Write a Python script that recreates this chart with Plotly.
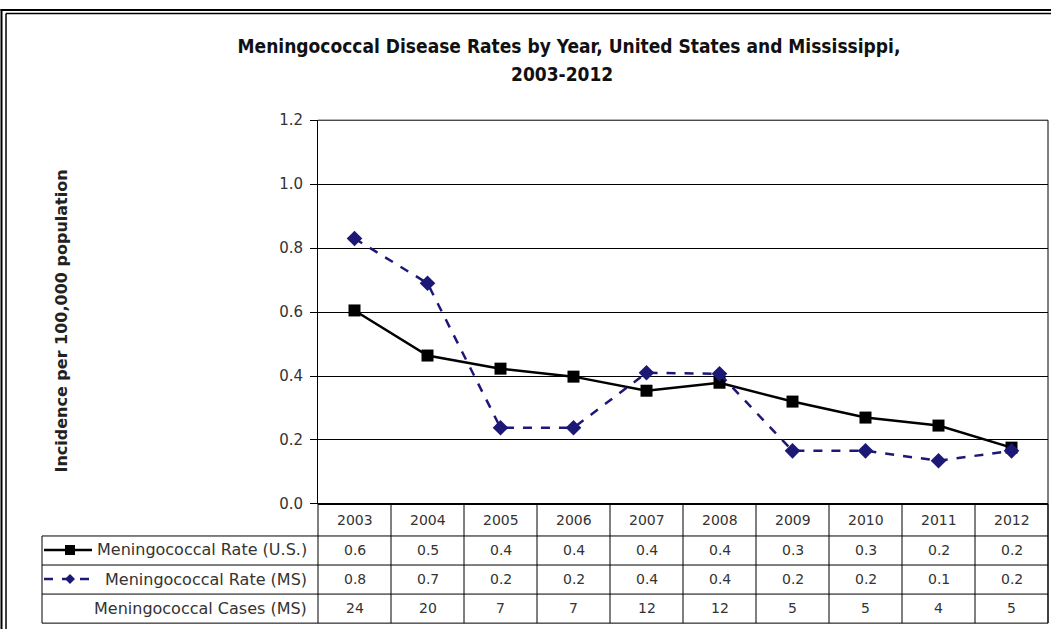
import plotly.graph_objects as go

# ---------------- data ----------------
years = ["2003", "2004", "2005", "2006", "2007", "2008", "2009", "2010", "2011", "2012"]
us_rate = [0.605, 0.464, 0.423, 0.398, 0.354, 0.379, 0.320, 0.270, 0.245, 0.176]
ms_rate = [0.830, 0.690, 0.238, 0.238, 0.410, 0.407, 0.166, 0.166, 0.135, 0.166]
us_table = ["0.6", "0.5", "0.4", "0.4", "0.4", "0.4", "0.3", "0.3", "0.2", "0.2"]
ms_table = ["0.8", "0.7", "0.2", "0.2", "0.4", "0.4", "0.2", "0.2", "0.1", "0.2"]
ms_cases = ["24", "20", "7", "7", "12", "12", "5", "5", "4", "5"]
y_tickvals = [0.0, 0.2, 0.4, 0.6, 0.8, 1.0, 1.2]
y_ticktext = ["0.0", "0.2", "0.4", "0.6", "0.8", "1.0", "1.2"]
row_labels = ["Meningococcal Rate (U.S.)", "Meningococcal Rate (MS)", "Meningococcal Cases (MS)"]
title_line1 = "Meningococcal Disease Rates by Year, United States and Mississippi,"
title_line2 = "2003-2012"
y_title = "Incidence per 100,000 population"

# ---------------- layout helpers ----------------
W, H = 1051, 638
OFF_Y, SC_Y = 9.0, 0.970   # observed vertical placement of the figure in the photographed page
PL, PR, PT, PB = 318, 1048, 120, 503  # plot area in pixels (target picture)
def fx(p):
    return p / W
def fy(p):
    return 1 - ((p - OFF_Y) / SC_Y) / H
def dx(p):  # pixel -> x domain fraction
    return (p - PL) / (PR - PL)

NAVY = "#1c1875"
TXT = "#333333"
FONT = "DejaVu Sans"
TITLE_FONT = dict(family="DejaVu Sans Condensed, DejaVu Sans, sans-serif", size=19,
                  color="#111111", weight="bold")

fig = go.Figure()
fig.add_trace(go.Scatter(
    x=years, y=us_rate, mode="lines+markers", name=row_labels[0],
    line=dict(color="black", width=2.5),
    marker=dict(symbol="square", size=12, color="black"),
    cliponaxis=False,
))
fig.add_trace(go.Scatter(
    x=years, y=ms_rate, mode="lines+markers", name=row_labels[1],
    line=dict(color=NAVY, width=2.5, dash="dash"),
    marker=dict(symbol="diamond", size=12, color=NAVY),
    cliponaxis=False,
))

shapes = []
# plot-area top and right borders
shapes.append(dict(type="line", xref="x domain", yref="paper", x0=0, x1=1, y0=fy(PT), y1=fy(PT),
                   line=dict(color="black", width=1)))
shapes.append(dict(type="line", xref="x domain", yref="paper", x0=1, x1=1, y0=fy(PT), y1=fy(622),
                   line=dict(color="black", width=1)))
# table horizontal lines
for yy in [535, 564, 593, 622]:
    shapes.append(dict(type="line", xref="x domain", yref="paper", x0=dx(42), x1=1, y0=fy(yy), y1=fy(yy),
                       line=dict(color="black", width=1)))
shapes.append(dict(type="line", xref="x domain", yref="paper", x0=0, x1=1, y0=fy(PB), y1=fy(PB),
                   line=dict(color="black", width=1)))
# table vertical lines (category band edges)
n = len(years)
for i in range(n + 1):
    shapes.append(dict(type="line", xref="x domain", yref="paper", x0=i / n, x1=i / n, y0=fy(PB), y1=fy(622),
                       line=dict(color="black", width=1)))
shapes.append(dict(type="line", xref="x domain", yref="paper", x0=dx(42), x1=dx(42), y0=fy(535), y1=fy(622),
                   line=dict(color="black", width=1)))
# legend keys in the table
shapes.append(dict(type="line", xref="paper", yref="paper", x0=fx(44), x1=fx(92), y0=fy(549), y1=fy(549),
                   line=dict(color="black", width=2.5)))
shapes.append(dict(type="rect", xref="paper", yref="paper", x0=fx(65), x1=fx(75), y0=fy(544), y1=fy(554),
                   fillcolor="black", line=dict(color="black", width=0)))
shapes.append(dict(type="line", xref="paper", yref="paper", x0=fx(44), x1=fx(92), y0=fy(578), y1=fy(578),
                   line=dict(color=NAVY, width=2.5, dash="dash")))
cx, cy, r = 70, 578, 5
shapes.append(dict(type="path", xref="paper", yref="paper",
                   path=f"M {fx(cx)},{fy(cy - r)} L {fx(cx + r)},{fy(cy)} L {fx(cx)},{fy(cy + r)} L {fx(cx - r)},{fy(cy)} Z",
                   fillcolor=NAVY, line=dict(color=NAVY, width=0)))
# outer frame (double line)
shapes.append(dict(type="line", xref="paper", yref="paper", x0=fx(1.5), x1=fx(1.5), y0=0, y1=1,
                   line=dict(color="black", width=2)))
shapes.append(dict(type="line", xref="paper", yref="paper", x0=fx(0.5), x1=1, y0=fy(10), y1=fy(10),
                   line=dict(color="black", width=2)))
shapes.append(dict(type="line", xref="paper", yref="paper", x0=fx(6), x1=fx(6), y0=0, y1=fy(13.5),
                   line=dict(color="black", width=1.5)))
shapes.append(dict(type="line", xref="paper", yref="paper", x0=fx(6), x1=1, y0=fy(13.5), y1=fy(13.5),
                   line=dict(color="black", width=1.5)))

annotations = []
row_y = [519, 549, 578, 607]
for i, yr in enumerate(years):
    annotations.append(dict(x=i, xref="x", y=fy(row_y[0]), yref="paper", text=yr, showarrow=False,
                            font=dict(family=FONT, size=14, color=TXT), xanchor="center", yanchor="middle"))
for vals, ry in [(us_table, row_y[1]), (ms_table, row_y[2]), (ms_cases, row_y[3])]:
    for i, v in enumerate(vals):
        annotations.append(dict(x=i, xref="x", y=fy(ry), yref="paper", text=v, showarrow=False,
                                font=dict(family=FONT, size=14, color=TXT), xanchor="center", yanchor="middle"))
for lab, ry in zip(row_labels, row_y[1:]):
    annotations.append(dict(x=fx(309), xref="paper", y=fy(ry), yref="paper", text=lab, showarrow=False,
                            font=dict(family=FONT, size=16, color=TXT), xanchor="right", yanchor="middle"))
annotations.append(dict(x=fx(62), xref="paper", y=fy(321), yref="paper", text=y_title, showarrow=False,
                        textangle=-90, font=dict(family=FONT, size=16, color="#222222", weight="bold"),
                        xanchor="center", yanchor="middle"))
annotations.append(dict(x=fx(562), xref="paper", y=fy(74), yref="paper", text=title_line2, showarrow=False,
                        font=TITLE_FONT, xanchor="center", yanchor="middle"))

fig.update_layout(
    width=W, height=H, autosize=False,
    margin=dict(l=0, r=0, t=0, b=0),
    paper_bgcolor="white", plot_bgcolor="white",
    showlegend=False,
    title=dict(text=title_line1, x=fx(569), y=fy(54), xanchor="center", yanchor="middle", font=TITLE_FONT),
    xaxis=dict(type="category", range=[-0.5, n - 0.5], domain=[fx(PL), fx(PR)],
               showticklabels=False, showgrid=False, showline=False, zeroline=False, ticks=""),
    yaxis=dict(range=[0, 1.2], domain=[fy(PB), fy(PT)], tickvals=y_tickvals, ticktext=y_ticktext,
               showgrid=True, gridcolor="black", gridwidth=1, zeroline=True, zerolinecolor="black",
               showline=True, linecolor="black", linewidth=1, ticks="outside", ticklen=7, tickcolor="black",
               tickfont=dict(family=FONT, size=15, color=TXT), ticklabelstandoff=4),
    shapes=shapes, annotations=annotations,
)

fig.write_html("out.html", config={"displayModeBar": False},
               post_script="document.body.style.margin='0';document.body.style.overflow='hidden';")
